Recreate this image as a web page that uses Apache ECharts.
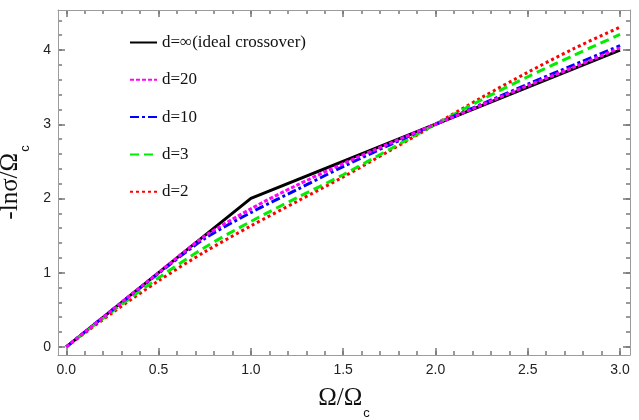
<!DOCTYPE html>
<html>
<head>
<meta charset="utf-8">
<script src="https://cdn.jsdelivr.net/npm/echarts@6/dist/echarts.min.js"></script>
<style>
  html, body { margin: 0; padding: 0; background: #fff; }
  #main { width: 639px; height: 420px; }
</style>
</head>
<body>
<div id="main"></div>
<script>
// Ω/Ωc 采样点
var omega = [0, 0.25, 0.5, 0.75, 1, 1.25, 1.5, 1.75, 2, 2.25, 2.5, 2.75, 3];
// 理想分频 (d=∞) 折线
var omegaIdeal = [0, 1, 2, 3];
var idealLine = [0, 2, 3, 4];
// -lnσ/Ωc
var d20 = [0, 0.5, 1.0, 1.49, 1.86, 2.18, 2.47, 2.74, 3.0, 3.26, 3.52, 3.77, 4.03];
var d10 = [0, 0.5, 0.99, 1.46, 1.81, 2.12, 2.43, 2.72, 3.0, 3.27, 3.54, 3.80, 4.06];
var d3 = [0, 0.48, 0.93, 1.34, 1.69, 2.01, 2.32, 2.66, 3.0, 3.33, 3.64, 3.93, 4.21];
var d2 = [0, 0.46, 0.89, 1.28, 1.63, 1.96, 2.29, 2.64, 3.0, 3.36, 3.70, 4.02, 4.31];
// 刻度标签
var xLabels = [0, 0.5, 1, 1.5, 2, 2.5, 3];
var yLabels = [0, 1, 2, 3, 4];

var xMin = -0.045, xMax = 3.054, yMin = -0.11, yMax = 4.54;
var W = 639, H = 420;
var gl = 58, gr = 9, gt = 10, gb = 65;
var frameColor = "#9c9c9c";
var tickColor = "#777777";
var majorLen = 7, minorLen = 4;

// 像素换算，只用来让画刻度的辅助 grid 与主 grid 对齐
var pxX = (W - gl - gr) / (xMax - xMin);
var pxY = (H - gt - gb) / (yMax - yMin);
var x0px = gl + (0 - xMin) * pxX, x3px = gl + (3 - xMin) * pxX;
var y0px = H - gb - (0 - yMin) * pxY;
var y4px = y0px - 4 * pxY, y44px = y0px - 4.4 * pxY;

function pairs(xs, ys) {
  return xs.map(function (x, i) { return [x, ys[i]]; });
}

var nameStyle = {
  fontFamily: "Liberation Serif", fontSize: 25, color: "#111",
  rich: { sub: { fontFamily: "Liberation Sans", fontSize: 13, color: "#111",
    verticalAlign: "bottom", padding: [0, 0, -9, 1] } }
};
var frameLine = { show: true, onZero: false, lineStyle: { color: frameColor, width: 1 } };

var grids = [{ left: gl, right: gr, top: gt, bottom: gb, outerBoundsMode: "none" }];
var xAxes = [
  {
    type: "value", gridIndex: 0, position: "bottom", min: xMin, max: xMax,
    axisLine: frameLine, axisTick: { show: false },
    axisLabel: {
      customValues: xLabels, margin: 8, color: "#222", fontSize: 14,
      fontFamily: "Liberation Sans",
      formatter: function (v) { return v.toFixed(1); }
    },
    splitLine: { show: false },
    name: "Ω/Ω{sub|c}", nameLocation: "middle", nameGap: 31, nameTextStyle: nameStyle
  },
  {
    type: "value", gridIndex: 0, position: "top", min: xMin, max: xMax,
    axisLine: frameLine, axisTick: { show: false }, axisLabel: { show: false },
    splitLine: { show: false }
  }
];
var yAxes = [
  {
    type: "value", gridIndex: 0, position: "left", min: yMin, max: yMax,
    axisLine: frameLine, axisTick: { show: false },
    axisLabel: {
      customValues: yLabels, margin: 7, color: "#222", fontSize: 14,
      fontFamily: "Liberation Sans"
    },
    splitLine: { show: false },
    name: "-lnσ/Ω{sub|c}", nameLocation: "middle", nameGap: 28, nameRotate: 90,
    nameTextStyle: nameStyle
  },
  {
    type: "value", gridIndex: 0, position: "right", min: yMin, max: yMax,
    axisLine: frameLine, axisTick: { show: false }, axisLabel: { show: false },
    splitLine: { show: false }
  }
];

// 刻度：用高度(宽度)等于刻度长度的窄 grid 的 splitLine 画出向内的刻度线
function tickAxis(grid, min, max, interval) {
  return {
    type: "value", gridIndex: grid, min: min, max: max, interval: interval,
    axisLine: { show: false }, axisTick: { show: false }, axisLabel: { show: false },
    splitLine: { show: true, lineStyle: { color: tickColor, width: 1.5 } }
  };
}
function xStrip(top, len, interval) {
  var g = grids.length;
  grids.push({ left: x0px, width: x3px - x0px, top: top, height: len, outerBoundsMode: "none" });
  xAxes.push(tickAxis(g, 0, 3, interval));
  yAxes.push({ type: "value", gridIndex: g, show: false, min: 0, max: 1 });
}
function yStrip(left, len, topPx, max, interval) {
  var g = grids.length;
  grids.push({ left: left, width: len, top: topPx, height: y0px - topPx, outerBoundsMode: "none" });
  yAxes.push(tickAxis(g, 0, max, interval));
  xAxes.push({ type: "value", gridIndex: g, show: false, min: 0, max: 1 });
}
xStrip(H - gb - majorLen, majorLen, 0.5);
xStrip(H - gb - minorLen, minorLen, 0.1);
xStrip(gt, majorLen, 0.5);
xStrip(gt, minorLen, 0.1);
yStrip(gl, majorLen, y4px, 4, 1);
yStrip(gl, minorLen, y44px, 4.4, 0.2);
yStrip(W - gr - majorLen, majorLen, y4px, 4, 1);
yStrip(W - gr - minorLen, minorLen, y44px, 4.4, 0.2);

function curve(name, ys, color, dash) {
  return {
    name: name, type: "line", data: pairs(omega, ys), smooth: 0.3,
    showSymbol: false, symbol: "none",
    lineStyle: { color: color, width: 3, type: dash },
    itemStyle: { color: color }
  };
}

var myChart = echarts.init(document.getElementById("main"));
var option = {
  animation: false,
  backgroundColor: "#fff",
  grid: grids,
  legend: {
    data: ["d=∞(ideal crossover)", "d=20", "d=10", "d=3", "d=2"],
    orient: "vertical", left: 129, top: 34, padding: 0,
    itemWidth: 27, itemHeight: 14, itemGap: 20.3,
    itemStyle: { opacity: 0 },
    textStyle: { fontFamily: "Liberation Serif", fontSize: 17, lineHeight: 17, color: "#111" }
  },
  xAxis: xAxes,
  yAxis: yAxes,
  series: [
    {
      name: "d=∞(ideal crossover)", type: "line", data: pairs(omegaIdeal, idealLine),
      showSymbol: false, symbol: "none", z: 2,
      lineStyle: { color: "#000", width: 3 }, itemStyle: { color: "#000" }
    },
    curve("d=2", d2, "#ff0000", [3, 3]),
    curve("d=3", d3, "#00ee00", [9, 5]),
    curve("d=10", d10, "#0000ff", [9, 3, 3, 3]),
    curve("d=20", d20, "#ff00ff", [4, 2])
  ]
};
myChart.setOption(option);
</script>
</body>
</html>
